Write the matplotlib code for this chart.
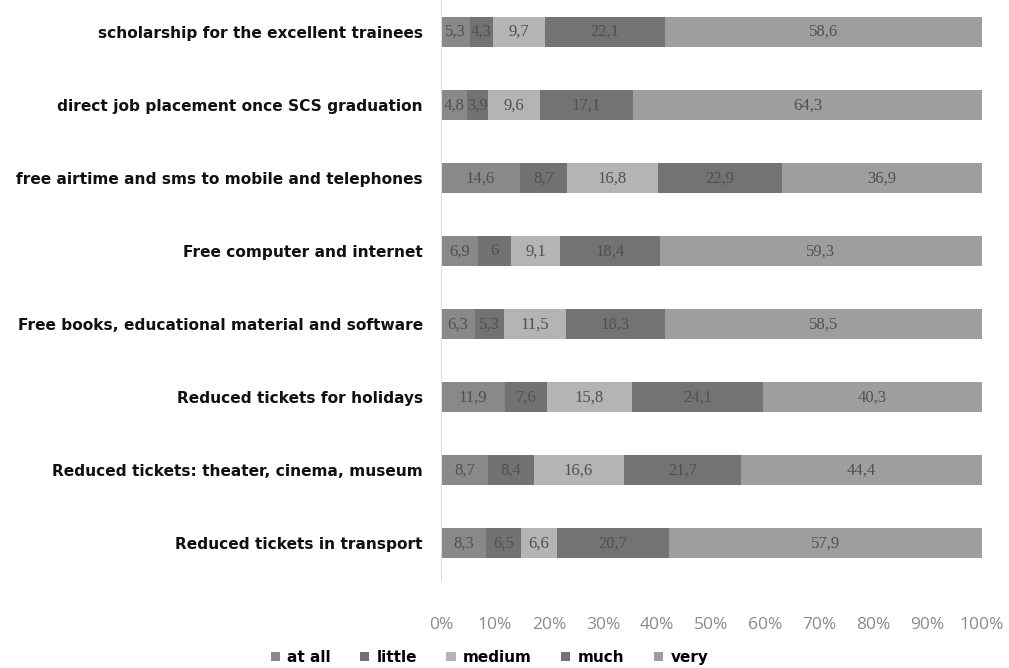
import numpy as np
import matplotlib
matplotlib.use("Agg")
import matplotlib.pyplot as plt

# rows, top to bottom
categories = [
    "scholarship for the excellent trainees",
    "direct job placement once SCS graduation",
    "free airtime and sms to mobile and telephones",
    "Free computer and internet",
    "Free books, educational material and software",
    "Reduced tickets for holidays",
    "Reduced tickets: theater, cinema, museum",
    "Reduced tickets in transport",
]
series_names = ["at all", "little", "medium", "much", "very"]
at_all = [5.3, 4.8, 14.6, 6.9, 6.3, 11.9, 8.7, 8.3]
little = [4.3, 3.9, 8.7, 6.0, 5.3, 7.6, 8.4, 6.5]
medium = [9.7, 9.6, 16.8, 9.1, 11.5, 15.8, 16.6, 6.6]
much = [22.1, 17.1, 22.9, 18.4, 18.3, 24.1, 21.7, 20.7]
very = [58.6, 64.3, 36.9, 59.3, 58.5, 40.3, 44.4, 57.9]
xticks = [0, 10, 20, 30, 40, 50, 60, 70, 80, 90, 100]

colors = ["#898989", "#727272", "#b4b4b4", "#737373", "#9e9e9e"]

raw = np.array([at_all, little, medium, much, very])
share = raw / raw.sum(axis=0) * 100  # 100% stacked, like the Excel original

fig = plt.figure(figsize=(10.09, 6.68), dpi=100)
ax = fig.add_axes([0.437, 0.132, 0.536, 0.868])

y = np.arange(len(categories))
left = np.zeros(len(categories))
handles = []
for k, name in enumerate(series_names):
    bars = ax.barh(y, share[k], left=left, height=0.41, color=colors[k],
                   edgecolor="none", label=name)
    handles.append(bars)
    for i in range(len(categories)):
        txt = ("%g" % raw[k, i]).replace(".", ",")
        ax.text(left[i] + share[k, i] / 2, y[i], txt, ha="center",
                va="center", fontsize=12, color="#505050",
                family="Liberation Serif")
    left += share[k]

ax.set_xlim(0, 100)
ax.set_ylim(7.5, -0.44)
ax.set_yticks(y)
ax.set_yticklabels(categories, fontsize=11.1, fontweight="bold",
                   color="#111111")
ax.set_xticks(xticks)
ax.set_xticklabels(["%d%%" % v for v in xticks], fontsize=12.5,
                   color="#8a8a8a", family="Open Sans")
ax.tick_params(axis="both", length=0)
ax.tick_params(axis="x", pad=27)
ax.tick_params(axis="y", pad=13)
for s in ["top", "right", "bottom"]:
    ax.spines[s].set_visible(False)
ax.spines["left"].set_color("#dcdcdc")

fig.legend(handles=handles, loc="lower center", bbox_to_anchor=(0.485, -0.016),
           ncol=5, frameon=False, handlelength=0.6, handleheight=0.6,
           columnspacing=1.9, handletextpad=0.5,
           prop={"weight": "bold", "size": 11})

fig.savefig("out.png", dpi=100)
